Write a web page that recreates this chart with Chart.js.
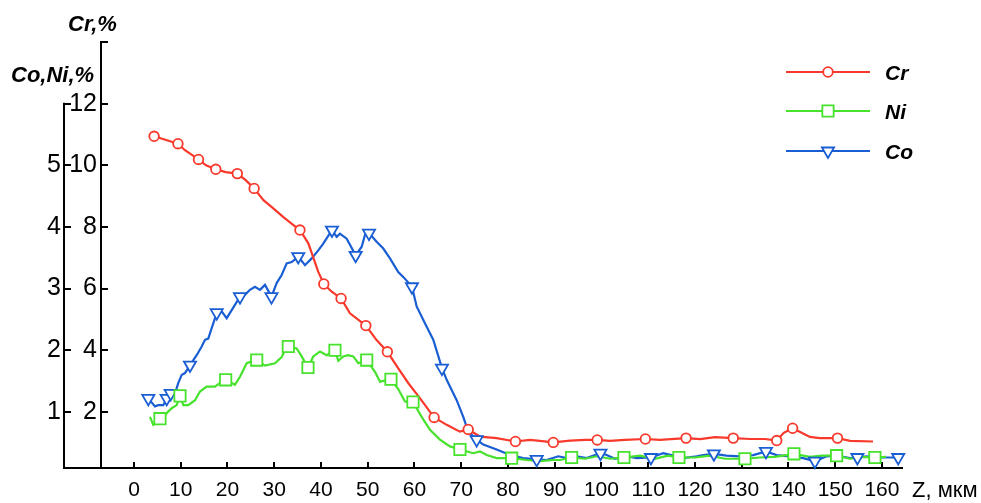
<!DOCTYPE html>
<html><head><meta charset="utf-8">
<script src="https://cdn.jsdelivr.net/npm/chart.js@4.4.1/dist/chart.umd.min.js"></script>
<style>html,body{margin:0;padding:0;background:#fff;}#wrap{width:981px;height:503px;}</style>
</head><body><div id="wrap"><canvas id="c" width="981" height="503"></canvas></div>
<script>
// ---- data (x in мкм, Cr in %, Co/Ni in %) ----
const xTicks = [0,10,20,30,40,50,60,70,80,90,100,110,120,130,140,150,160];
const crTicks = [2,4,6,8,10,12];
const coniTicks = [1,2,3,4,5];
const crAxisTop = 14;
const coniAxisTop = 6;

const crLine = [[4.3,10.94],[9.4,10.70],[10.9,10.49],[13.8,10.19],[15.4,10.00],[17.5,9.87],[19.6,9.78],[22.1,9.73],[23.9,9.52],[25.7,9.25],[27.7,8.87],[29.8,8.60],[31.9,8.33],[33.7,8.11],[35.5,7.90],[37.3,7.47],[38.4,6.99],[39.4,6.55],[40.6,6.15],[42.3,5.90],[44.3,5.68],[46.2,5.20],[49.6,4.80],[51.9,4.33],[54.2,3.95],[56.5,3.42],[58.7,2.93],[61.2,2.44],[64.2,1.82],[66.9,1.58],[69.7,1.36],[71.5,1.43],[74.0,1.20],[77.6,1.15],[81.6,1.04],[84.7,1.09],[86.8,1.06],[89.7,1.01],[93.3,1.07],[96.5,1.09],[99.1,1.09],[101.8,1.06],[105.0,1.09],[109.4,1.12],[112.5,1.09],[118.1,1.15],[121.1,1.12],[124.3,1.18],[128.2,1.15],[131.8,1.12],[135.0,1.12],[137.5,1.07],[139.0,1.32],[140.9,1.47],[142.5,1.35],[144.6,1.19],[146.7,1.15],[150.5,1.15],[153.2,1.06],[158.1,1.04]];
const crMarks = [[4.3,10.94],[9.4,10.70],[13.8,10.19],[17.5,9.87],[22.1,9.73],[25.7,9.25],[35.5,7.90],[40.6,6.15],[44.3,5.68],[49.6,4.80],[54.2,3.95],[64.2,1.82],[71.5,1.43],[81.6,1.04],[89.7,1.01],[99.1,1.09],[109.4,1.12],[118.1,1.15],[128.2,1.15],[137.5,1.07],[140.9,1.47],[150.5,1.15]];

const niLine = [[3.42,0.92],[4.13,0.79],[5.56,0.89],[6.99,0.98],[8.06,1.06],[9.13,1.11],[9.84,1.26],[10.55,1.11],[11.61,1.11],[13.05,1.19],[14.12,1.33],[15.55,1.41],[17.33,1.41],[18.40,1.47],[19.61,1.52],[21.60,1.44],[22.67,1.57],[24.11,1.79],[25.18,1.82],[26.25,1.84],[28.02,1.75],[30.16,1.79],[31.59,1.89],[32.30,2.00],[33.01,2.06],[34.80,2.03],[35.87,1.90],[37.22,1.72],[38.35,1.90],[39.79,1.98],[41.22,1.92],[42.99,2.00],[43.70,1.83],[44.77,1.90],[45.78,1.92],[46.91,1.90],[47.98,1.79],[49.78,1.84],[51.55,1.65],[52.62,1.49],[54.97,1.53],[56.53,1.37],[57.97,1.17],[59.68,1.16],[61.54,0.92],[63.32,0.71],[65.45,0.55],[67.59,0.44],[69.73,0.39],[72.58,0.33],[74.01,0.36],[75.44,0.30],[77.58,0.25],[80.79,0.25],[84.00,0.22],[86.84,0.20],[89.69,0.22],[91.12,0.22],[93.62,0.26],[96.47,0.24],[99.04,0.28],[101.82,0.24],[104.81,0.26],[108.24,0.29],[111.44,0.24],[114.22,0.29],[116.58,0.26],[120.0,0.26],[123.21,0.29],[126.42,0.24],[130.70,0.24],[133.90,0.26],[137.11,0.27],[141.18,0.32],[144.60,0.27],[147.17,0.29],[150.31,0.29],[153.16,0.24],[155.72,0.27],[158.50,0.26],[160.86,0.27]];
const niMarks = [[5.56,0.89],[9.84,1.26],[19.61,1.52],[26.25,1.84],[33.01,2.06],[37.22,1.72],[42.99,2.00],[49.78,1.84],[54.97,1.53],[59.68,1.16],[69.73,0.39],[80.79,0.25],[93.62,0.26],[104.81,0.26],[116.58,0.26],[130.70,0.24],[141.18,0.32],[150.31,0.29],[158.50,0.26]];

const coLine = [[3.06,1.22],[4.49,1.09],[5.20,1.11],[6.27,1.11],[6.99,1.22],[7.85,1.30],[8.77,1.30],[9.48,1.47],[10.20,1.60],[10.91,1.63],[11.98,1.76],[13.41,1.92],[14.48,2.06],[15.19,2.17],[15.89,2.19],[16.62,2.36],[17.33,2.52],[17.69,2.61],[18.76,2.63],[19.83,2.52],[20.90,2.65],[22.67,2.87],[23.74,2.90],[24.81,2.98],[25.88,3.03],[26.95,2.98],[28.02,3.06],[29.41,2.87],[30.52,3.09],[31.59,3.22],[32.66,3.41],[33.73,3.43],[35.14,3.52],[36.58,3.38],[38.01,3.49],[39.42,3.62],[40.49,3.73],[42.35,3.95],[43.36,3.84],[44.06,3.89],[45.50,3.81],[46.20,3.71],[47.42,3.54],[48.71,3.68],[49.41,3.87],[50.27,3.90],[51.91,3.76],[53.33,3.65],[54.76,3.49],[56.53,3.27],[57.60,3.19],[59.47,3.03],[60.47,2.71],[62.61,2.38],[64.02,2.17],[65.88,1.71],[66.89,1.52],[69.03,1.19],[70.44,0.92],[71.51,0.68],[73.30,0.55],[74.72,0.47],[77.58,0.39],[80.43,0.30],[83.27,0.25],[86.14,0.23],[88.28,0.22],[90.76,0.28],[92.56,0.25],[94.70,0.28],[96.83,0.25],[99.79,0.33],[101.11,0.30],[102.89,0.24],[105.39,0.28],[107.53,0.25],[110.59,0.26],[113.22,0.33],[115.36,0.29],[117.50,0.25],[120.36,0.28],[121.78,0.30],[124.06,0.32],[126.78,0.29],[129.63,0.28],[132.48,0.30],[135.19,0.36],[137.48,0.30],[140.32,0.28],[143.16,0.25],[145.67,0.20],[148.17,0.28],[150.31,0.29],[153.16,0.25],[154.76,0.26],[156.73,0.28],[158.87,0.26],[161.01,0.26],[163.49,0.26]];
const coMarks = [[3.06,1.22],[6.99,1.22],[7.85,1.30],[11.98,1.76],[17.69,2.61],[22.67,2.87],[29.41,2.87],[35.14,3.52],[42.35,3.95],[47.42,3.54],[50.27,3.90],[59.47,3.03],[65.88,1.71],[73.30,0.55],[86.14,0.23],[99.79,0.33],[110.59,0.26],[124.06,0.32],[135.19,0.36],[145.67,0.20],[154.76,0.26],[163.49,0.26]];

const seriesNames = ['Cr','Ni','Co'];

// ---- styles ----
const RED = '#f8392b', GREEN = '#46e22c', BLUE = '#1a5ed3';
const FONT = '"Liberation Sans", Arial, sans-serif';
const pts = a => a.map(([x, y]) => ({x, y}));

function lineDs(label, data, axis, color) {
  return {label, data: pts(data), yAxisID: axis, showLine: true, borderColor: color, borderWidth: 2.2,
    pointRadius: 0, tension: 0, order: 2, clip: false};
}
function markDs(label, data, axis, color, style, radius, rot) {
  return {label: label + ' marks', data: pts(data), yAxisID: axis, showLine: false, pointStyle: style,
    pointRadius: radius, pointRotation: rot, pointBackgroundColor: '#fff', pointBorderColor: color,
    pointBorderWidth: 1.8, order: 0, clip: false};
}

const legendStyles = [
  {color: RED, style: 'circle', r: 4.8},
  {color: GREEN, style: 'rect', r: 8},
  {color: BLUE, style: 'triangle', r: 7}
];

function glyph(ctx, style, x, y, r) {
  ctx.beginPath();
  if (style === 'circle') ctx.arc(x, y, r, 0, Math.PI * 2);
  else if (style === 'rect') { const s = r * Math.SQRT1_2; ctx.rect(x - s, y - s, 2 * s, 2 * s); }
  else { ctx.moveTo(x, y + r); ctx.lineTo(x - r * 0.866, y - r / 2); ctx.lineTo(x + r * 0.866, y - r / 2); ctx.closePath(); }
  ctx.fill(); ctx.stroke();
}

const extras = {
  id: 'extras',
  afterDraw(chart) {
    const ctx = chart.ctx, ca = chart.chartArea;
    const yO = chart.scales.yCoNi, xs = chart.scales.x;
    ctx.save();
    ctx.strokeStyle = '#000'; ctx.lineWidth = 2; ctx.lineCap = 'butt';
    const ox = Math.round(yO.right);
    ctx.beginPath();
    ctx.moveTo(ox, yO.getPixelForValue(coniAxisTop) - 1);
    ctx.lineTo(ox, ca.bottom + 1);
    ctx.moveTo(ox - 1, ca.bottom);
    ctx.lineTo(ca.left, ca.bottom);
    ctx.stroke();
    // titles
    ctx.fillStyle = '#000'; ctx.textAlign = 'left'; ctx.textBaseline = 'alphabetic';
    ctx.font = 'italic bold 22px ' + FONT;
    ctx.fillText('Cr,%', 68, 31);
    ctx.fillText('Co,Ni,%', 11, 82);
    ctx.font = '22px ' + FONT;
    ctx.fillText('Z, мкм', xs.right + 10, 497);
    // legend
    const ys = [72, 111, 151], bases = [79.5, 118.5, 158.5];
    seriesNames.forEach((name, i) => {
      const st = legendStyles[i];
      ctx.strokeStyle = st.color; ctx.lineWidth = 2.2;
      ctx.beginPath(); ctx.moveTo(786, ys[i]); ctx.lineTo(870, ys[i]); ctx.stroke();
      ctx.fillStyle = '#fff'; ctx.lineWidth = 1.8;
      glyph(ctx, st.style, 828, ys[i], st.r);
      ctx.fillStyle = '#000'; ctx.font = 'italic bold 21px ' + FONT;
      ctx.fillText(name, 885, bases[i]);
    });
    ctx.restore();
  }
};

const axisGrid = {drawOnChartArea: false, drawTicks: true, tickLength: -7, color: '#000', lineWidth: 2};

new Chart(document.getElementById('c'), {
  type: 'scatter',
  data: {
    datasets: [
      markDs('Cr', crMarks, 'yCr', RED, 'circle', 4.8, 0),
      markDs('Ni', niMarks, 'yCoNi', GREEN, 'rect', 8, 0),
      markDs('Co', coMarks, 'yCoNi', BLUE, 'triangle', 7, 180),
      lineDs('Cr', crLine, 'yCr', RED),
      lineDs('Ni', niLine, 'yCoNi', GREEN),
      lineDs('Co', coLine, 'yCoNi', BLUE)
    ]
  },
  options: {
    responsive: false, animation: false, devicePixelRatio: 1, events: [],
    layout: {padding: {left: 0, top: 42, right: 79, bottom: 0}},
    plugins: {legend: {display: false}, tooltip: {enabled: false}},
    scales: {
      x: {
        type: 'linear', min: -7.06, max: 164.3,
        afterBuildTicks: s => { s.ticks = xTicks.map(v => ({value: v})); },
        ticks: {font: {family: FONT, size: 21}, color: '#000', padding: 16, maxRotation: 0, autoSkip: false},
        grid: Object.assign({}, axisGrid, {tickLength: -6}),
        border: {display: true, color: '#000', width: 2},
        afterFit: s => { s.height = 35; }
      },
      yCr: {
        type: 'linear', position: 'left', weight: 0, min: 0.18, max: crAxisTop,
        afterBuildTicks: s => { s.ticks = crTicks.concat([crAxisTop]).map(v => ({value: v})); },
        ticks: {font: {family: FONT, size: 25}, color: '#000', padding: 11,
          callback: v => crTicks.includes(v) ? String(v) : ''},
        grid: axisGrid,
        border: {display: true, color: '#000', width: 2},
        afterFit: s => { s.width = 37; }
      },
      yCoNi: {
        type: 'linear', position: 'left', weight: 10, min: 0.09, max: 7,
        afterBuildTicks: s => { s.ticks = coniTicks.concat([coniAxisTop]).map(v => ({value: v})); },
        ticks: {font: {family: FONT, size: 25}, color: '#000', padding: 10,
          callback: v => coniTicks.includes(v) ? String(v) : ''},
        grid: axisGrid,
        border: {display: false},
        afterFit: s => { s.width = 64; }
      }
    }
  },
  plugins: [extras]
});
</script>
</body></html>
